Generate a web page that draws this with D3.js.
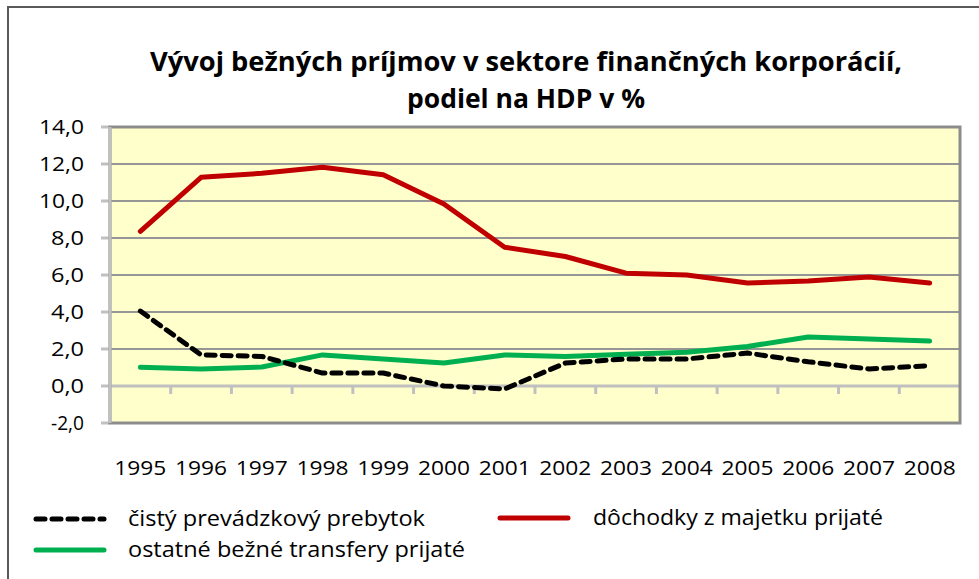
<html><head>
<meta charset="utf-8">
<title>Vývoj bežných príjmov</title>
<script src="https://cdn.jsdelivr.net/npm/d3@7/dist/d3.min.js"></script>
<style>
  body { margin: 0; background: white; }
  text { font-family: "Open Sans", "DejaVu Sans", sans-serif; fill: #000; }
</style>
</head>
<body>
<svg id="chart" width="979" height="579"></svg>
<script>

// data
let years = ["1995","1996","1997","1998","1999","2000","2001","2002","2003","2004","2005","2006","2007","2008"];
let prebytok = [4.05, 1.68, 1.6, 0.7, 0.7, 0.0, -0.16, 1.24, 1.46, 1.46, 1.78, 1.31, 0.92, 1.1];
let majetok = [8.36, 11.28, 11.5, 11.82, 11.42, 9.84, 7.5, 7.0, 6.1, 6.0, 5.57, 5.68, 5.89, 5.57];
let transfery = [1.01, 0.92, 1.03, 1.68, 1.46, 1.24, 1.68, 1.6, 1.71, 1.82, 2.14, 2.65, 2.54, 2.43];
let yTicks = [-2, 0, 2, 4, 6, 8, 10, 12, 14];
let titleLines = ["Vývoj bežných príjmov v sektore  finančných korporácií,", "podiel na HDP v %"];
let legendNames = ["čistý prevádzkový prebytok", "dôchodky z majetku  prijaté", "ostatné  bežné transfery prijaté"];

let svg = d3.select("#chart");
let plot = {left: 110, right: 960, top: 127, bottom: 423};

// outer frame
svg.append("rect")
    .attr("x", 8).attr("y", 7)
    .attr("width", 990).attr("height", 600)
    .style("fill", "none").style("stroke", "#595959").style("stroke-width", 2);

// title
svg.selectAll(".title").data(titleLines).enter().append("text")
    .attr("class", "title")
    .attr("x", 526)
    .attr("y", (d, i) => 71 + i * 37)
    .attr("text-anchor", "middle")
    .attr("textLength", (d, i) => i == 0 ? 752 : 238)
    .attr("lengthAdjust", "spacingAndGlyphs")
    .style("font-size", "27px").style("font-weight", "bold")
    .text(d => d);

let x = d3.scaleBand().domain(years).range([plot.left, plot.right]);
let y = d3.scaleLinear().domain([-2, 14]).range([plot.bottom, plot.top]);

// plot background
svg.append("rect")
    .attr("x", plot.left).attr("y", plot.top)
    .attr("width", plot.right - plot.left).attr("height", plot.bottom - plot.top)
    .style("fill", "#ffffcc");

// gridlines
svg.selectAll(".grid").data(yTicks.filter(d => d != 0 && d != -2 && d != 14)).enter().append("line")
    .attr("x1", plot.left).attr("x2", plot.right)
    .attr("y1", d => y(d)).attr("y2", d => y(d))
    .style("stroke", "#969696").style("stroke-width", 2);

// y axis labels + small ticks
svg.selectAll(".ylab").data(yTicks).enter().append("text")
    .attr("x", 84)
    .attr("y", d => y(d) + 7)
    .attr("text-anchor", "end")
    .attr("textLength", d => d >= 10 ? 45 : 33)
    .attr("lengthAdjust", "spacingAndGlyphs")
    .style("font-size", "20px")
    .text(d => d3.format(".1f")(d).replace(".", ",").replace("−", "-"));
svg.selectAll(".ytick").data(yTicks).enter().append("line")
    .attr("x1", plot.left - 9).attr("x2", plot.left)
    .attr("y1", d => y(d)).attr("y2", d => y(d))
    .style("stroke", "#c0c0c0").style("stroke-width", 3);

// x axis at zero with tick marks between categories
svg.append("line")
    .attr("x1", plot.left).attr("x2", plot.right)
    .attr("y1", y(0)).attr("y2", y(0))
    .style("stroke", "#c0c0c0").style("stroke-width", 3);
svg.selectAll(".xtick").data(years.slice(1)).enter().append("line")
    .attr("x1", d => x(d)).attr("x2", d => x(d))
    .attr("y1", y(0)).attr("y2", y(0) + 8)
    .style("stroke", "#c0c0c0").style("stroke-width", 3);

// plot border
svg.append("rect")
    .attr("x", plot.left).attr("y", plot.top)
    .attr("width", plot.right - plot.left).attr("height", plot.bottom - plot.top)
    .style("fill", "none").style("stroke", "#8c8c8c").style("stroke-width", 3);
svg.append("line")
    .attr("x1", plot.left).attr("x2", plot.left)
    .attr("y1", plot.top).attr("y2", plot.bottom)
    .style("stroke", "#c0c0c0").style("stroke-width", 3);

// x labels
svg.selectAll(".xlab").data(years).enter().append("text")
    .attr("x", d => x(d) + x.bandwidth() / 2)
    .attr("y", 475)
    .attr("text-anchor", "middle")
    .attr("textLength", 52)
    .attr("lengthAdjust", "spacingAndGlyphs")
    .style("font-size", "20px")
    .text(d => d);

// series
let series = [
  {values: majetok, color: "#c00000", dash: null},
  {values: transfery, color: "#00b050", dash: null},
  {values: prebytok, color: "#000000", dash: "9,7"}
];
let line = d3.line()
    .x((d, i) => x(years[i]) + x.bandwidth() / 2)
    .y(d => y(d));
series.forEach(function(s) {
  svg.append("path")
      .attr("d", line(s.values))
      .style("fill", "none")
      .style("stroke", s.color)
      .style("stroke-width", 5)
      .style("stroke-linecap", "round")
      .style("stroke-linejoin", "round")
      .style("stroke-dasharray", s.dash);
});

// legend
let legend = [
  {name: legendNames[0], color: "#000000", dash: "9,7", x: 36, y: 519, tx: 128, tl: 297},
  {name: legendNames[1], color: "#c00000", dash: null, x: 500, y: 518, tx: 593, tl: 290},
  {name: legendNames[2], color: "#00b050", dash: null, x: 36, y: 550, tx: 128, tl: 337}
];
legend.forEach(function(l) {
  svg.append("line")
      .attr("x1", l.x).attr("x2", l.x + 68)
      .attr("y1", l.y).attr("y2", l.y)
      .style("stroke", l.color).style("stroke-width", 5)
      .style("stroke-linecap", "round")
      .style("stroke-dasharray", l.dash);
  svg.append("text")
      .attr("x", l.tx)
      .attr("y", l.y + 7)
      .attr("textLength", l.tl)
      .attr("lengthAdjust", "spacingAndGlyphs")
      .style("font-size", "21px")
      .text(l.name);
});

</script>
</body>
</html>
